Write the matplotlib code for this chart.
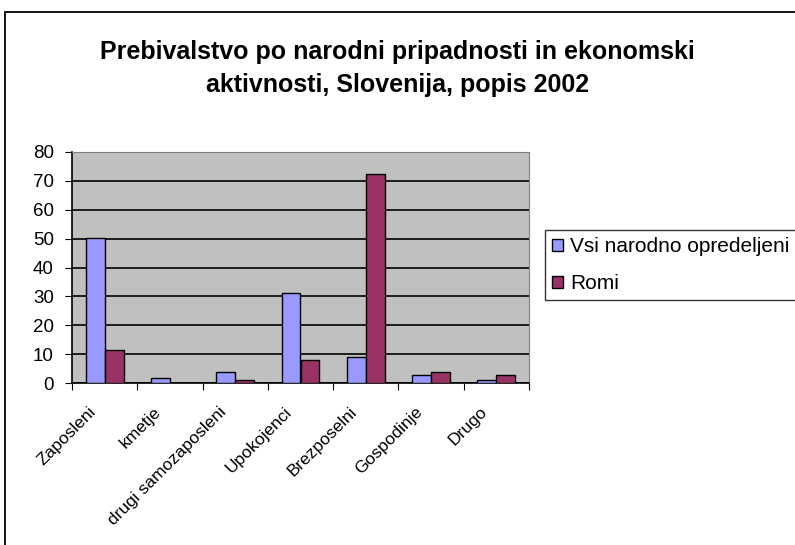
import matplotlib.pyplot as plt
import matplotlib.patches as mpatches
import matplotlib.transforms as mtransforms
import numpy as np

plt.rcParams["font.family"] = ["Liberation Sans", "DejaVu Sans"]

categories = ["Zaposleni", "kmetje", "drugi samozaposleni", "Upokojenci",
              "Brezposelni", "Gospodinje", "Drugo"]
vsi = [50.3, 1.6, 3.9, 31.3, 9.0, 2.8, 1.0]
romi = [11.3, 0.0, 1.0, 8.0, 72.5, 3.9, 2.8]
series_names = ["Vsi narodno opredeljeni", "Romi"]
yticks = [0, 10, 20, 30, 40, 50, 60, 70, 80]

fig = plt.figure(figsize=(7.95, 5.45), dpi=100)
# chart frame (cut off at right and bottom like the original)
fig.patches.append(mpatches.Rectangle((5 / 795, -0.1), 1.2, (545 - 12) / 545 + 0.1,
                                      transform=fig.transFigure, fill=False,
                                      edgecolor="black", linewidth=1.3))

ax = fig.add_axes([72 / 795, 1 - 383 / 545, (529 - 72) / 795, (383 - 152) / 545])
ax.set_facecolor("#C0C0C0")

x = np.arange(len(categories))
w = 0.29
ax.bar(x - w / 2, vsi, w, color="#9999FF", edgecolor="black", linewidth=1, zorder=3,
       label=series_names[0])
ax.bar(x + w / 2, romi, w, color="#993366", edgecolor="black", linewidth=1, zorder=3,
       label=series_names[1])

ax.set_xlim(-0.5, len(categories) - 0.5)
ax.set_ylim(0, 80)
ax.set_yticks(yticks)
ax.yaxis.grid(True, color="black", linewidth=1.2, zorder=1)
ax.set_axisbelow(True)

ax.set_xticks(np.arange(-0.5, len(categories)), minor=False)
ax.set_xticklabels([])
ax.set_xticks(x, minor=True)
ax.set_xticklabels(categories, minor=True, rotation=45, ha="right", va="top", fontsize=12.5)
ax.tick_params(axis="x", which="minor", length=0, pad=15)
ax.tick_params(axis="x", which="major", length=5, direction="out")
ax.tick_params(axis="y", length=5, direction="out", labelsize=13.5, pad=8)

# shift category labels a little to the left, like the original
shift = mtransforms.ScaledTranslation(-6 / 100, 0, fig.dpi_scale_trans)
for lbl in ax.get_xticklabels(minor=True):
    lbl.set_transform(lbl.get_transform() + shift)

for s in ["top", "right"]:
    ax.spines[s].set_color("#808080")
ax.spines["left"].set_linewidth(1.2)
ax.spines["bottom"].set_linewidth(1.2)

fig.text(0.5, 1 - 52 / 545, "Prebivalstvo po narodni pripadnosti in ekonomski",
         ha="center", va="center", fontsize=18, fontweight="bold")
fig.text(0.5, 1 - 85 / 545, "aktivnosti, Slovenija, popis 2002",
         ha="center", va="center", fontsize=18, fontweight="bold")

leg = ax.legend(loc="upper left", bbox_to_anchor=(545 / 795, 1 - 230 / 545),
                bbox_transform=fig.transFigure, frameon=True, fancybox=False,
                fontsize=15, handlelength=0.5, handleheight=0.5, handletextpad=0.35,
                borderpad=0.35, labelspacing=0.85, borderaxespad=0)
leg.get_frame().set_edgecolor("black")
leg.get_frame().set_linewidth(1)

fig.savefig("out.png", dpi=100)
